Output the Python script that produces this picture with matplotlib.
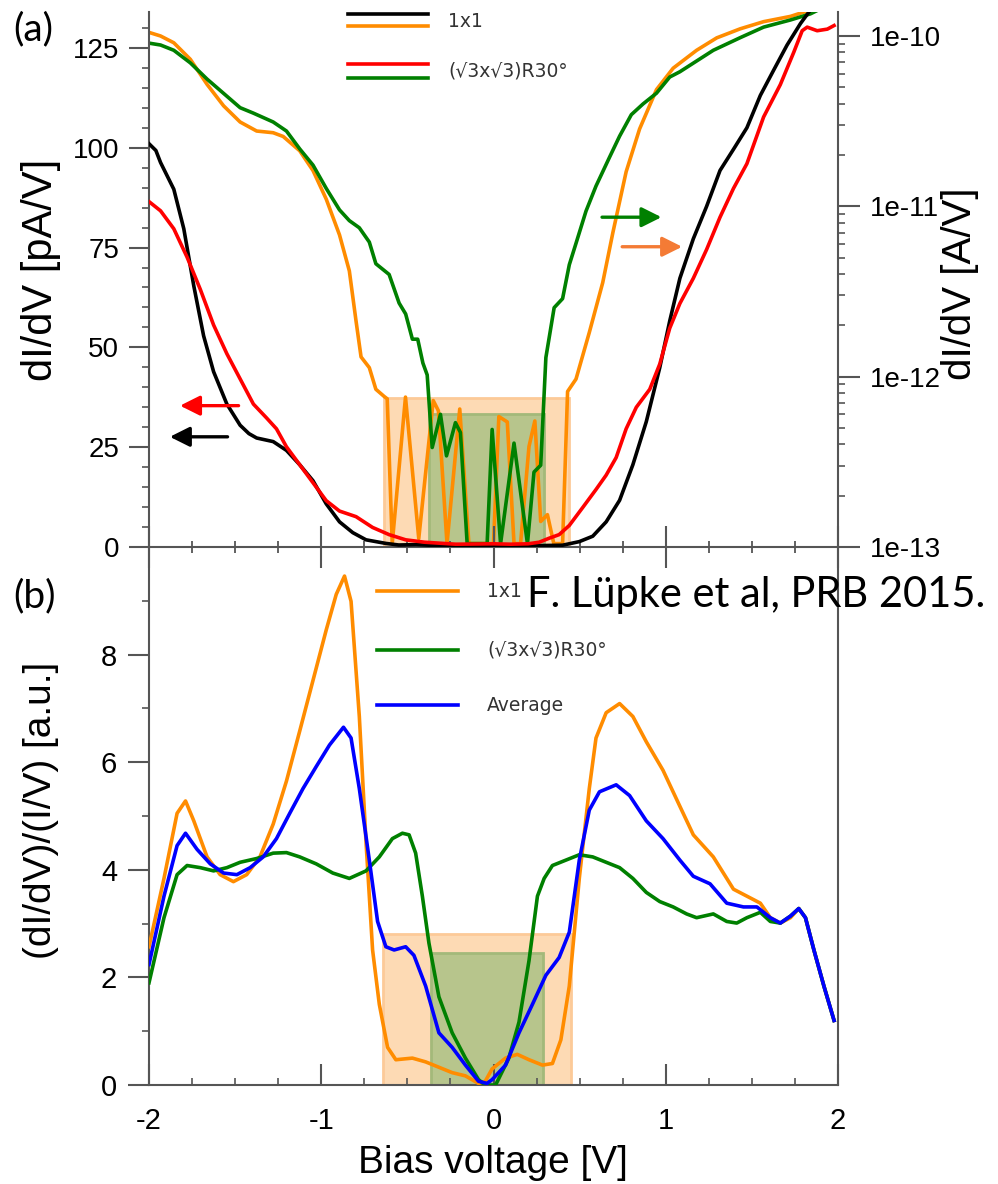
import numpy as np
import matplotlib
matplotlib.use("Agg")
import matplotlib.pyplot as plt
from matplotlib.ticker import MultipleLocator, FixedLocator, FuncFormatter, NullFormatter

plt.rcParams['font.family'] = ['Liberation Sans', 'DejaVu Sans']

# ---- panel (a): dI/dV spectra ----
# 1x1, linear axis [pA/V]
v_black = [-2.0, -1.96, -1.933, -1.856, -1.798, -1.74, -1.683, -1.625, -1.548, -1.471, -1.42, -1.375,
           -1.279, -1.202, -1.125, -1.048, -0.971, -0.894, -0.817, -0.74, -0.625, -0.55,
           -0.45, -0.35, -0.2, 0.0, 0.2, 0.401, 0.498, 0.576, 0.654, 0.732, 0.809, 0.887,
           0.965, 1.023, 1.082, 1.16, 1.237, 1.315, 1.393, 1.471, 1.549, 1.626, 1.704,
           1.782, 1.84, 1.9, 2.0]
didv_black = [101, 99.3, 96.3, 89.6, 79.7, 65.4, 52.9, 43.9, 35.8, 30.5, 28.4, 27.3,
              26.4, 24.2, 20.6, 16.6, 10.8, 6.3, 3.6, 1.8, 0.9, 0.5,
              0.6, 0.4, 0.3, 0.3, 0.3, 0.45, 1.35, 2.7, 6.3, 11.7, 20.6, 31.4,
              44.9, 56.6, 67.3, 77.2, 85.3, 94.3, 99.6, 105, 113.1, 119.4, 125.7,
              131.1, 134.5, 136, 136]

# sqrt3, linear axis [pA/V]
v_red = [-2.0, -1.933, -1.856, -1.779, -1.702, -1.625, -1.548, -1.471, -1.394, -1.317,
         -1.26, -1.202, -1.125, -1.048, -0.971, -0.894, -0.798, -0.702, -0.606, -0.51,
         -0.4, -0.22, 0.0, 0.1, 0.2, 0.265, 0.323, 0.381, 0.44, 0.518, 0.595, 0.654,
         0.712, 0.77, 0.829, 0.907, 0.965, 1.023, 1.082, 1.16, 1.237, 1.315, 1.393,
         1.471, 1.568, 1.665, 1.743, 1.792, 1.821, 1.879, 1.938, 1.977]
didv_red = [86.5, 84.2, 79.7, 72.6, 64.5, 55.6, 48.4, 42.1, 35.8, 32.3,
            29.6, 25.1, 20.6, 16.1, 11.6, 9.0, 7.6, 4.9, 3.1, 1.8,
            1.2, 0.7, 0.8, 0.7, 0.8, 1.2, 2.2, 3.1, 5.4, 9.9, 14.4, 18,
            22.4, 29.6, 35, 39.5, 45.8, 54.8, 61, 67.3, 74.5, 82.6, 89.8,
            96, 107.7, 115.8, 123.9, 129.3, 130.2, 129.3, 129.7, 130.6]

# 1x1, log axis, log10 of [A/V]
v_orange = [-2.0, -1.933, -1.856, -1.76, -1.663, -1.567, -1.471, -1.375, -1.279, -1.221,
            -1.125, -1.048, -0.971, -0.894, -0.837, -0.798, -0.769, -0.721, -0.683, -0.635,
            -0.617, -0.588, -0.511, -0.434, -0.35, -0.32, -0.27, -0.196, -0.143, 0.0,
            0.031, 0.08, 0.119, 0.157, 0.206, 0.24, 0.274, 0.313, 0.35, 0.401, 0.43,
            0.479, 0.556, 0.634, 0.693, 0.77, 0.848, 0.946, 1.043, 1.179, 1.296, 1.432,
            1.568, 1.724, 1.8, 1.9, 2.0]
logdidv_orange = [-9.979, -10.0, -10.04, -10.137, -10.284, -10.41, -10.505, -10.558, -10.568, -10.59,
                  -10.674, -10.79, -10.958, -11.168, -11.379, -11.674, -11.884, -11.947, -12.074, -12.116,
                  -12.13, -12.98, -12.12, -12.95, -12.14, -12.2, -12.98, -12.19, -12.98, -12.98,
                  -12.234, -12.266, -12.98, -12.98, -12.41, -12.26, -12.85, -12.81, -12.98, -12.98, -12.087,
                  -12.014, -11.741, -11.448, -11.154, -10.797, -10.546, -10.315, -10.189, -10.084, -10.011, -9.958,
                  -9.916, -9.885, -9.86, -9.84, -9.84]

# sqrt3, log axis, log10 of [A/V]
v_green = [-2.0, -1.933, -1.856, -1.76, -1.663, -1.567, -1.471, -1.394, -1.279, -1.202,
           -1.125, -1.048, -0.971, -0.894, -0.837, -0.779, -0.721, -0.683, -0.606, -0.548,
           -0.51, -0.471, -0.44, -0.41, -0.385, -0.356, -0.308, -0.273, -0.221, -0.192,
           -0.153, -0.037, -0.008, 0.041, 0.119, 0.197, 0.235, 0.274, 0.304, 0.352, 0.401,
           0.44, 0.479, 0.537, 0.595, 0.673, 0.732, 0.8, 0.868, 0.946, 1.023, 1.082,
           1.179, 1.276, 1.432, 1.568, 1.724, 1.84, 1.9, 2.0]
logdidv_green = [-10.042, -10.053, -10.084, -10.158, -10.253, -10.337, -10.421, -10.453, -10.505, -10.558,
                 -10.663, -10.758, -10.895, -11.021, -11.084, -11.126, -11.21, -11.337, -11.4, -11.568,
                 -11.632, -11.78, -11.78, -11.92, -11.99, -12.416, -12.221, -12.465, -12.27, -12.328,
                 -12.98, -12.98, -12.31, -12.98, -12.39, -12.98, -12.56, -12.52, -11.888, -11.595, -11.542,
                 -11.343, -11.217, -11.028, -10.881, -10.713, -10.588, -10.462, -10.399, -10.336, -10.241, -10.21,
                 -10.147, -10.084, -10.01, -9.948, -9.906, -9.87, -9.84, -9.84]

# ---- panel (b): normalised dI/dV ----
v_b_orange = [-2.0, -1.913, -1.837, -1.788, -1.74, -1.663, -1.587, -1.51, -1.433, -1.356,
              -1.279, -1.202, -1.125, -1.048, -0.971, -0.913, -0.865, -0.827, -0.779, -0.74,
              -0.702, -0.663, -0.615, -0.567, -0.471, -0.394, -0.317, -0.24, -0.163, -0.087,
              -0.048, -0.008, 0.07, 0.138, 0.206, 0.284, 0.342, 0.391, 0.44, 0.498, 0.556,
              0.595, 0.654, 0.732, 0.809, 0.887, 0.984, 1.082, 1.16, 1.276, 1.393, 1.471,
              1.549, 1.607, 1.665, 1.724, 1.772, 1.811, 1.86, 1.918, 1.977]
norm_orange = [2.57, 3.84, 5.05, 5.28, 4.91, 4.24, 3.91, 3.78, 3.91, 4.24,
               4.85, 5.65, 6.58, 7.52, 8.46, 9.12, 9.46, 8.99, 6.85, 4.51,
               2.51, 1.5, 0.70, 0.47, 0.5, 0.43, 0.33, 0.23, 0.17, 0.03,
               0.07, 0.3, 0.5, 0.57, 0.47, 0.37, 0.4, 0.84, 1.84, 3.84, 5.51,
               6.45, 6.92, 7.09, 6.85, 6.38, 5.85, 5.18, 4.65, 4.24, 3.64, 3.51,
               3.38, 3.11, 3.01, 3.11, 3.28, 3.11, 2.51, 1.84, 1.2]

v_b_green = [-2.0, -1.913, -1.837, -1.779, -1.702, -1.625, -1.548, -1.471, -1.375, -1.279,
             -1.202, -1.125, -1.029, -0.933, -0.837, -0.74, -0.663, -0.587, -0.529, -0.49,
             -0.452, -0.413, -0.375, -0.317, -0.24, -0.163, -0.087, -0.048, 0.012, 0.089,
             0.148, 0.206, 0.255, 0.294, 0.342, 0.42, 0.498, 0.576, 0.654, 0.732, 0.809,
             0.887, 0.965, 1.043, 1.121, 1.179, 1.276, 1.354, 1.412, 1.471, 1.549, 1.607,
             1.665, 1.724, 1.772, 1.811, 1.86, 1.918, 1.977]
norm_green = [1.9, 3.11, 3.91, 4.08, 4.04, 3.98, 4.04, 4.14, 4.21, 4.31,
              4.32, 4.24, 4.11, 3.94, 3.84, 3.98, 4.24, 4.58, 4.68, 4.65,
              4.31, 3.51, 2.64, 1.64, 0.97, 0.5, 0.1, 0.0, 0.0, 0.5,
              1.17, 2.31, 3.51, 3.84, 4.08, 4.18, 4.28, 4.24, 4.14, 4.04, 3.84,
              3.58, 3.41, 3.31, 3.18, 3.11, 3.18, 3.04, 3.01, 3.11, 3.21, 3.04,
              3.01, 3.14, 3.28, 3.11, 2.51, 1.84, 1.2]

v_b_blue = [-2.0, -1.913, -1.837, -1.788, -1.721, -1.644, -1.567, -1.49, -1.413, -1.337,
            -1.26, -1.183, -1.106, -1.029, -0.952, -0.871, -0.827, -0.779, -0.721, -0.673,
            -0.625, -0.577, -0.51, -0.462, -0.394, -0.317, -0.24, -0.163, -0.087, -0.038,
            -0.008, 0.07, 0.148, 0.226, 0.304, 0.381, 0.44, 0.498, 0.556, 0.615, 0.712,
            0.79, 0.887, 0.984, 1.082, 1.16, 1.257, 1.354, 1.451, 1.529, 1.607, 1.665,
            1.724, 1.772, 1.811, 1.86, 1.918, 1.977]
norm_blue = [2.24, 3.51, 4.45, 4.68, 4.38, 4.11, 3.94, 3.91, 4.04, 4.24,
             4.58, 5.05, 5.51, 5.92, 6.32, 6.65, 6.45, 5.51, 4.18, 3.04,
             2.57, 2.51, 2.57, 2.41, 1.84, 0.97, 0.7, 0.37, 0.07, 0.03,
             0.1, 0.37, 0.97, 1.5, 2.04, 2.37, 2.84, 4.18, 5.11, 5.45, 5.58,
             5.38, 4.91, 4.58, 4.18, 3.88, 3.74, 3.38, 3.31, 3.31, 3.11, 3.01,
             3.14, 3.28, 3.11, 2.51, 1.84, 1.2]

# gap regions (bias range, height)
gap_1x1 = (-0.635, 0.436)
gap_r30 = (-0.375, 0.294)
gap_top_a = (37.2, 33.2)
gap_b_1x1 = (-0.644, 0.449)
gap_b_r30 = (-0.365, 0.29)
gap_top_b = (2.81, 2.45)

C_BLACK = '#000000'
C_ORANGE = '#ff8c00'
C_RED = '#ff0000'
C_GREEN = '#008000'
C_BLUE = '#0000ff'
C_SPINE = '#555555'
LW = 2.6

fig = plt.figure(figsize=(9.98, 11.84), dpi=100)
ax1 = fig.add_axes([0.1493, 0.538, 0.6904, 0.4519])
ax1r = ax1.twinx()
ax2 = fig.add_axes([0.1493, 0.0836, 0.6904, 0.4544])

ylim_a = 134.0
ax1.set_xlim(-2, 2)
ax1.set_ylim(0, ylim_a)
ax1r.set_yscale('log')
ax1r.set_ylim(1e-13, 10 ** -9.859)
ax1.set_zorder(ax1r.get_zorder() + 1)
ax1.patch.set_visible(False)

# shaded gaps (on the back axes)
ax1r.axvspan(*gap_1x1, ymin=0, ymax=gap_top_a[0] / ylim_a, facecolor='#fddab4',
             edgecolor='#fcca98', lw=2, zorder=1)
ax1r.axvspan(*gap_r30, ymin=0, ymax=gap_top_a[1] / ylim_a, facecolor='#b7c58c',
             edgecolor='#a3b97a', lw=2, zorder=1)

ax1r.plot(v_orange, 10 ** np.array(logdidv_orange), color=C_ORANGE, lw=LW, zorder=3)
ax1r.plot(v_green, 10 ** np.array(logdidv_green), color=C_GREEN, lw=LW, zorder=3)
ax1.plot(v_black, didv_black, color=C_BLACK, lw=LW, zorder=3)
ax1.plot(v_red, didv_red, color=C_RED, lw=LW, zorder=3)

# arrows pointing to the axis of each curve
arrows = [((-1.48, 35.4), (-1.82, 35.4), C_RED),
          ((-1.544, 27.6), (-1.879, 27.6), C_BLACK),
          ((0.630, 82.6), (0.975, 82.6), C_GREEN),
          ((0.747, 75.2), (1.095, 75.2), '#f47b35')]
for tail, head, col in arrows:
    ax1.annotate('', xy=head, xytext=tail,
                 arrowprops=dict(arrowstyle='-|>', color=col, lw=2.4,
                                 mutation_scale=30, shrinkA=0, shrinkB=0))

# spines / ticks panel (a)
for s in ['top', 'right']:
    ax1.spines[s].set_visible(False)
for s in ['top', 'left', 'bottom']:
    ax1r.spines[s].set_visible(False)
for a in (ax1, ax1r):
    for s in a.spines.values():
        s.set_color(C_SPINE)
        s.set_linewidth(1.5)

ax1.set_xticks([-2, -1, 0, 1, 2])
ax1.xaxis.set_minor_locator(MultipleLocator(0.25))
ax1.tick_params(axis='x', which='major', direction='inout', length=30, width=1.5,
                color=C_SPINE, labelbottom=False)
ax1.tick_params(axis='x', which='minor', direction='inout', length=9, width=1.3,
                color=C_SPINE)
ax1.set_yticks([0, 25, 50, 75, 100, 125])
ax1.yaxis.set_minor_locator(MultipleLocator(5))
ax1.tick_params(axis='y', which='major', direction='out', length=14.5, width=1.5,
                color=C_SPINE, labelsize=20, pad=7)
ax1.tick_params(axis='y', which='minor', direction='out', length=5, width=1.2,
                color=C_SPINE)

ax1r.yaxis.set_major_locator(FixedLocator([1e-13, 1e-12, 1e-11, 1e-10]))
ax1r.yaxis.set_major_formatter(FuncFormatter(lambda v, p: '1e%d' % round(np.log10(v))))
ax1r.yaxis.set_minor_formatter(NullFormatter())
ax1r.tick_params(axis='y', which='major', direction='out', length=16, width=1.5,
                 color=C_SPINE, labelsize=20, pad=7)
ax1r.tick_params(axis='y', which='minor', direction='out', length=5, width=1.2,
                 color=C_SPINE)

# legend panel (a): drawn by hand, two lines per entry
leg_a = [((0.997, 0.974), (C_BLACK, C_ORANGE), '1x1', 0.983),
         ((0.903, 0.877), (C_RED, C_GREEN), '(√3x√3)R30°', 0.890)]
for (y1, y2), (c1, c2), lab, ty in leg_a:
    ax1.plot([0.289, 0.405], [y1, y1], color=c1, lw=LW, transform=ax1.transAxes, clip_on=False)
    ax1.plot([0.289, 0.405], [y2, y2], color=c2, lw=LW, transform=ax1.transAxes, clip_on=False)
    ax1.text(0.434, ty, lab, transform=ax1.transAxes, fontsize=13.5, color='#333333',
             family=['DejaVu Sans'], va='center', ha='left')

# ---- panel (b) ----
ax2.set_xlim(-2, 2)
ax2.set_ylim(0, 10)
ax2.axvspan(*gap_b_1x1, ymin=0, ymax=gap_top_b[0] / 10, facecolor='#fddab4',
            edgecolor='#fcca98', lw=2, zorder=1)
ax2.axvspan(*gap_b_r30, ymin=0, ymax=gap_top_b[1] / 10, facecolor='#b7c58c',
            edgecolor='#a3b97a', lw=2, zorder=1)
ax2.plot(v_b_orange, norm_orange, color=C_ORANGE, lw=LW, zorder=3)
ax2.plot(v_b_green, norm_green, color=C_GREEN, lw=LW, zorder=3)
ax2.plot(v_b_blue, norm_blue, color=C_BLUE, lw=LW, zorder=3)

ax2.spines['top'].set_visible(False)
for s in ax2.spines.values():
    s.set_color(C_SPINE)
    s.set_linewidth(1.5)
ax2.set_xticks([-2, -1, 0, 1, 2])
ax2.set_xticklabels(['-2', '-1', '0', '1', '2'])
ax2.xaxis.set_minor_locator(MultipleLocator(0.25))
ax2.tick_params(axis='x', which='major', direction='in', length=15, width=1.5,
                color=C_SPINE, labelsize=21, pad=16)
ax2.tick_params(axis='x', which='minor', direction='in', length=5, width=1.2,
                color=C_SPINE)
ax2.set_yticks([0, 2, 4, 6, 8])
ax2.yaxis.set_minor_locator(MultipleLocator(1))
ax2.tick_params(axis='y', which='major', direction='out', length=15, width=1.5,
                color=C_SPINE, labelsize=21, pad=8)
ax2.tick_params(axis='y', which='minor', direction='out', length=5, width=1.2,
                color=C_SPINE)

leg_b = [(0.918, C_ORANGE, '1x1'),
         (0.8086, C_GREEN, '(√3x√3)R30°'),
         (0.706, C_BLUE, 'Average')]
for y, c, lab in leg_b:
    ax2.plot([0.331, 0.448], [y, y], color=c, lw=LW, transform=ax2.transAxes, clip_on=False)
    ax2.text(0.491, y, lab, transform=ax2.transAxes, fontsize=13.5, color='#333333',
             family=['DejaVu Sans'], va='center', ha='left')

# ---- labels ----
fig.text(41 / 998, 1 - 270 / 1184, 'dI/dV [pA/V]', rotation=90, ha='center', va='center',
         fontsize=30)
fig.text(960 / 998, 1 - 284 / 1184, 'dI/dV [A/V]', rotation=90, ha='center', va='center',
         fontsize=29)
fig.text(41 / 998, 1 - 810 / 1184, '(dI/dV)/(I/V) [a.u.]', rotation=90, ha='center',
         va='center', fontsize=28)
fig.text(493 / 998, 1 - 1163 / 1184, 'Bias voltage [V]', ha='center', va='center',
         fontsize=28)
fig.text(13 / 998, 1 - 29 / 1184, '(a)', fontsize=28, family=['Lato', 'DejaVu Sans'],
         va='center', ha='left')
fig.text(13 / 998, 1 - 596 / 1184, '(b)', fontsize=28, family=['Lato', 'DejaVu Sans'],
         va='center', ha='left')
fig.text(527 / 998, 1 - 607 / 1184, 'F. Lüpke et al, PRB 2015.', fontsize=30,
         family=['Lato', 'DejaVu Sans'], va='baseline', ha='left')

fig.savefig('out.png', dpi=100)
